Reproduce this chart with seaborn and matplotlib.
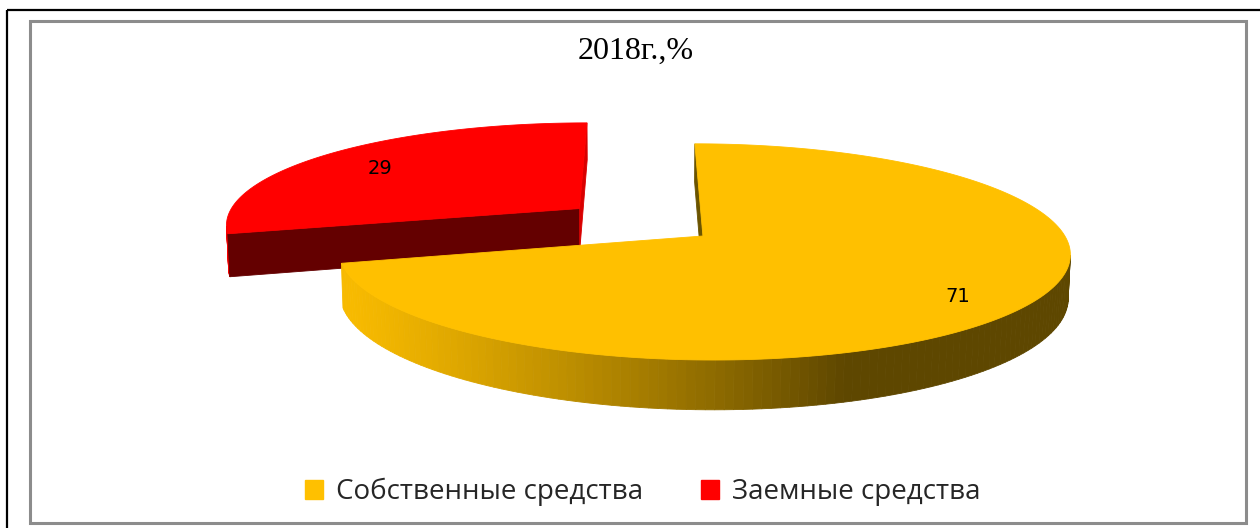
import numpy as np
import matplotlib
matplotlib.use("Agg")
import matplotlib.pyplot as plt
from matplotlib.patches import Polygon, Rectangle, Patch
import seaborn as sns

# data
labels = ["Собственные средства", "Заемные средства"]
values = [71, 29]
title = "2018г.,%"
colors = ["#FFC000", "#FF0000"]
cut_colors = ["#6B5400", "#640000"]
label_r = [0.81, 0.79]

sns.set_theme(style="white")
palette = sns.color_palette(colors)

# 3d view parameters (pixel space, pie radius = 1)
E = np.radians(16)
D = 6.65
FX, FY = 2360, 2453
SX0, SY0 = 640, 222
H = 0.12
EXPLODE = 0.22
cs, sn = np.cos(E), np.sin(E)
cam = np.array([0.0, -D * cs])


def proj(X, Z, Y=0.0):
    v = Z * sn + Y * cs
    w = D + Z * cs - Y * sn
    return SX0 + FX * X / w, SY0 - FY * v / w


def shade(rgb, f):
    return tuple(np.clip(np.array(rgb) * f, 0, 1))


def side_factor(t):
    n = np.array([np.sin(t), np.cos(t)])
    L = np.array([-0.95, -0.31])
    return 0.37 + 0.6 * max(0.0, n @ L)


fig = plt.figure(figsize=(12.6, 5.28), dpi=100)
ax = fig.add_axes([0, 0, 1, 1])
ax.set_xlim(0, 1260)
ax.set_ylim(528, 0)
ax.axis("off")

# frames
ax.add_patch(Rectangle((7, 10), 1300, 600, fill=False, ec="black", lw=1.6))
ax.add_patch(Rectangle((30, 21), 1216, 502, fill=False, ec="#8c8c8c", lw=2.2))

fracs = np.array(values) / sum(values)
edges = np.concatenate([[0], np.cumsum(fracs)]) * 2 * np.pi

# draw farther slice first (red), then yellow
order = [1, 0]
for i in order:
    t0, t1 = edges[i], edges[i + 1]
    mid = (t0 + t1) / 2
    ox, oz = EXPLODE * np.sin(mid), EXPLODE * np.cos(mid)
    base = palette[i]

    # outer side
    ts = np.linspace(t0, t1, 200)
    quads = []
    for a, b in zip(ts[:-1], ts[1:]):
        m = (a + b) / 2
        p = np.array([ox + np.sin(m), oz + np.cos(m)])
        n = np.array([np.sin(m), np.cos(m)])
        if n @ (cam - p) <= 0:
            continue
        pts = [proj(ox + np.sin(a), oz + np.cos(a)), proj(ox + np.sin(b), oz + np.cos(b)),
               proj(ox + np.sin(b), oz + np.cos(b), -H), proj(ox + np.sin(a), oz + np.cos(a), -H)]
        quads.append((p[1], pts, shade(base, side_factor(m))))
    for _, pts, c in sorted(quads, key=lambda q: -q[0]):
        ax.add_patch(Polygon(pts, closed=True, fc=c, ec=c, lw=0.6))

    # cut faces
    for t, nrm, col in [(t0, np.array([-np.cos(t0), np.sin(t0)]), cut_colors[i]),
                        (t1, np.array([np.cos(t1), -np.sin(t1)]), shade(base, 0.85) if i == 1 else cut_colors[i])]:
        p = np.array([ox + 0.5 * np.sin(t), oz + 0.5 * np.cos(t)])
        if nrm @ (cam - p) <= 0:
            continue
        rx, rz = ox + np.sin(t), oz + np.cos(t)
        pts = [proj(ox, oz), proj(rx, rz), proj(rx, rz, -H), proj(ox, oz, -H)]
        ax.add_patch(Polygon(pts, closed=True, fc=col, ec=col, lw=0.6))

    # top face
    top = [proj(ox, oz)] + [proj(ox + np.sin(t), oz + np.cos(t)) for t in ts]
    ax.add_patch(Polygon(top, closed=True, fc=base, ec=base, lw=0.6))

    # value label
    lx, ly = proj(ox + label_r[i] * np.sin(mid), oz + label_r[i] * np.cos(mid))
    ax.text(lx, ly + 4, str(values[i]), ha="center", va="center", fontsize=14,
            family="DejaVu Sans", color="black")

ax.text(636, 51, title, ha="center", va="center", fontsize=23,
        family="Liberation Serif", color="black")

handles = [Patch(fc=palette[k], ec=palette[k]) for k in range(len(labels))]
ax.legend(handles, labels, loc="center", bbox_to_anchor=(0.51, 1 - 492 / 528),
          ncol=2, frameon=False, handlelength=0.65, handleheight=0.65,
          handletextpad=0.45, columnspacing=2.1,
          prop={"family": "Open Sans", "size": 20})

fig.savefig("out.png", dpi=100)
